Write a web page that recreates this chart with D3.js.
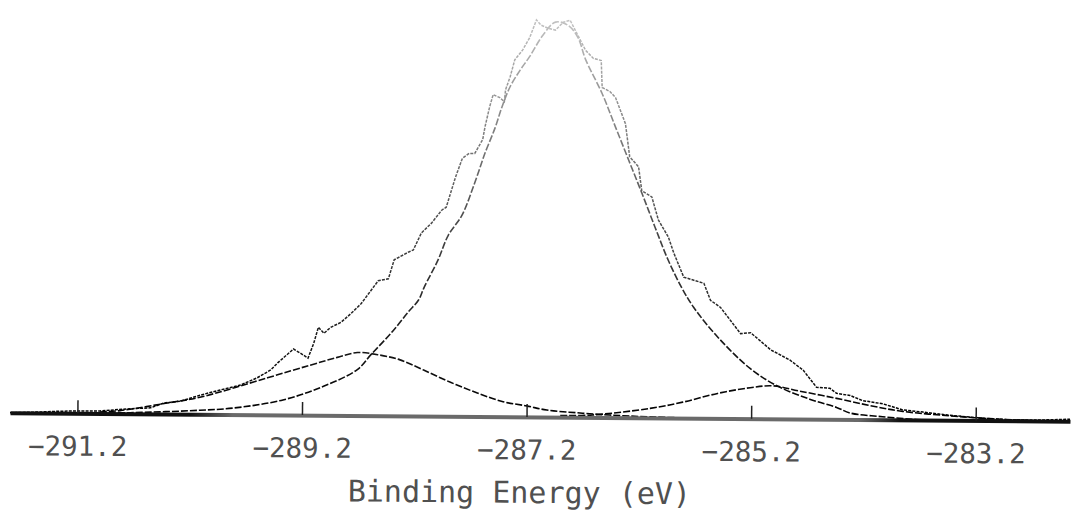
<!DOCTYPE html>
<html>
<head>
<meta charset="utf-8">
<script src="https://cdn.jsdelivr.net/npm/d3@7"></script>
<style>
  html, body { margin: 0; padding: 0; background: #fff; }
  svg { display: block; }
</style>
</head>
<body>
<svg id="chart" width="1077" height="510"></svg>
<script>
// ---------- data (binding energy in eV, intensity in arbitrary units) ----------
const tickValues = [-291.2, -289.2, -287.2, -285.2, -283.2];
const axisTitle = "Binding Energy (eV)";

const rawSpectrum = [
  [-291.80,0],[-291.53,1],[-291.35,2],[-291.00,2.5],[-290.73,5],[-290.55,6],[-290.43,11],
  [-290.28,13],[-290.11,19],[-289.93,24.5],[-289.75,29.5],[-289.60,37],[-289.48,45],
  [-289.42,52],[-289.28,66],[-289.22,62],[-289.15,57],[-289.10,72],[-289.06,88],[-289.01,82],
  [-288.95,88],[-288.86,93],[-288.77,102],[-288.68,112],[-288.53,135],[-288.44,137],
  [-288.39,156],[-288.26,164],[-288.22,166],[-288.15,183],[-288.06,193],[-287.97,206],
  [-287.93,209],[-287.85,239],[-287.79,258],[-287.73,263],[-287.68,263],[-287.61,277],
  [-287.59,290],[-287.55,310],[-287.52,322],[-287.46,319],[-287.42,315],[-287.41,327],
  [-287.37,340],[-287.33,357],[-287.26,367],[-287.20,379],[-287.14,397],[-287.10,392],
  [-287.04,389],[-286.97,387],[-286.90,395],[-286.84,397],[-286.77,382],[-286.70,367],
  [-286.63,359],[-286.56,357],[-286.55,330],[-286.48,326],[-286.43,320],[-286.34,294],
  [-286.30,261],[-286.22,251],[-286.19,227],[-286.10,221],[-286.04,198],[-285.95,181],
  [-285.90,165],[-285.81,141],[-285.72,138],[-285.63,135],[-285.57,118],[-285.48,111],
  [-285.30,85],[-285.21,86],[-285.03,69],[-284.86,59],[-284.74,49],[-284.62,32],
  [-284.50,31],[-284.44,26],[-284.32,24],[-284.21,19],[-284.03,16],[-283.85,10],
  [-283.67,8],[-283.43,5],[-283.16,2.5],[-282.90,1],[-282.63,1],[-282.36,2]
];

const mainPeak = [
  [-291.00,0.5],[-290.73,1],[-290.11,4],[-289.81,6.5],[-289.37,15],[-289.01,29],
  [-288.71,46],[-288.59,61],[-288.41,83],[-288.26,104],[-288.17,116],[-288.12,129],
  [-288.00,156],[-287.91,181],[-287.79,201],[-287.68,233],[-287.59,263],[-287.50,289],
  [-287.44,310],[-287.37,330],[-287.28,347],[-287.20,360],[-287.08,382],[-286.97,395],
  [-286.86,392],[-286.77,380],[-286.70,358],[-286.55,324],[-286.43,291],[-286.31,258],
  [-286.19,225],[-286.07,191],[-285.95,158],[-285.83,131],[-285.72,111],[-285.50,81],
  [-285.21,50],[-284.97,33],[-284.68,20],[-284.44,12],[-284.32,6.5],[-284.03,3],
  [-283.73,0.5],[-283.43,0]
];

const highBEPeak = [
  [-291.00,1.5],[-290.82,3],[-290.40,11],[-290.11,17],[-289.51,37],[-289.13,50],
  [-288.89,58],[-288.71,63],[-288.53,61],[-288.33,56],[-288.12,46],[-287.88,34],
  [-287.64,23.5],[-287.41,15],[-287.20,11],[-287.02,7],[-286.75,4.5],[-286.46,2.5],
  [-286.10,1],[-285.66,0]
];

const lowBEPeak = [
  [-286.90,1.5],[-286.61,2.5],[-286.10,9.5],[-285.81,16],[-285.50,25],[-285.21,31],
  [-285.01,33],[-284.77,28],[-284.44,21],[-284.14,14],[-283.85,8.5],[-283.43,4.5],
  [-283.08,2],[-282.72,0.5]
];

// ---------- drawing ----------
const svg = d3.select("#chart");
const x = d3.scaleLinear().domain([-291.8, -282.36]).range([10, 1070]);
const y = d3.scaleLinear().domain([0, 400]).range([417, 17]);

const defs = svg.append("defs");
const fade = defs.append("linearGradient").attr("id", "fade")
  .attr("gradientUnits", "userSpaceOnUse")
  .attr("x1", 0).attr("x2", 0).attr("y1", 10).attr("y2", 417);
[[0, "#c8c8c8"], [0.25, "#8a8a8a"], [0.55, "#444"], [0.8, "#1a1a1a"], [1, "#000"]]
  .forEach(([o, c]) => fade.append("stop").attr("offset", o).attr("stop-color", c));

const base = defs.append("linearGradient").attr("id", "base")
  .attr("gradientUnits", "userSpaceOnUse")
  .attr("x1", 10).attr("x2", 1070).attr("y1", 0).attr("y2", 0);
[[0, "#111"], [0.17, "#111"], [0.21, "#6a6a6a"], [0.8, "#6a6a6a"], [0.84, "#111"], [1, "#111"]]
  .forEach(([o, c]) => base.append("stop").attr("offset", o).attr("stop-color", c));

// slight scan tilt
const g = svg.append("g").attr("transform", "rotate(0.46,540,417)");

const smooth = d3.line().x(d => x(d[0])).y(d => y(d[1])).curve(d3.curveCatmullRom.alpha(0.5));
const jagged = d3.line().x(d => x(d[0])).y(d => y(d[1]));

[highBEPeak, lowBEPeak, mainPeak].forEach(s => {
  g.append("path").datum(s).attr("d", smooth)
    .attr("fill", "none").attr("stroke", "url(#fade)")
    .attr("stroke-width", 1.6).attr("stroke-dasharray", "7 2");
});

g.append("path").datum(rawSpectrum).attr("d", jagged)
  .attr("fill", "none").attr("stroke", "url(#fade)")
  .attr("stroke-width", 1.5).attr("stroke-dasharray", "3 1.2");

const axis = d3.axisBottom(x)
  .tickValues(tickValues)
  .tickFormat(d3.format(".1f"))
  .tickSizeInner(-13).tickSizeOuter(0).tickPadding(23);

const ax = g.append("g").attr("transform", `translate(0,${y(0)})`).call(axis);
ax.select(".domain").attr("stroke", "url(#base)").attr("stroke-width", 4);
ax.selectAll(".tick line").attr("stroke", "#222").attr("stroke-width", 1.5);
ax.selectAll(".tick text")
  .attr("fill", "#505050")
  .style("font-family", "'DejaVu Sans Mono', monospace")
  .style("font-size", "27.5px");

g.append("text")
  .attr("x", 520).attr("y", 503)
  .attr("text-anchor", "middle")
  .attr("fill", "#505050")
  .style("font-family", "'DejaVu Sans Mono', monospace")
  .style("font-size", "30px")
  .text(axisTitle);
</script>
</body>
</html>
